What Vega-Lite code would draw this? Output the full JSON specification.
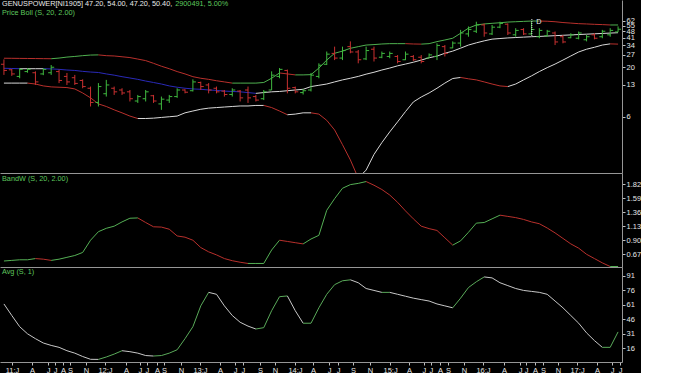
{
  "$schema": "https://vega.github.io/schema/vega-lite/v6.json",
  "background": "#000000",
  "padding": 0,
  "spacing": 0,
  "config": {
    "view": {"stroke": null},
    "axis": {"labelFont": "Liberation Sans", "labelFontSize": 7.5, "labelColor": "#e6e6e6", "domainColor": "#969696", "tickColor": "#bdbdbd", "grid": false, "title": null, "labelOverlap": false, "labelFlush": false, "labelBound": false},
    "text": {"font": "Liberation Sans", "fontSize": 7.3}
  },
  "resolve": {"scale": {"x": "independent", "y": "independent"}},
  "datasets": {
    "d": [
      {"i":0,"o":21.5,"h":24.2,"l":16.6,"c":18.5,"u":24.9,"m":19.5,"lb":13.6,"bw":0.56,"av":62},
      {"i":1,"o":18.8,"h":19.2,"l":16.2,"c":17.0,"u":24.85,"m":19.4,"lb":13.6,"bw":0.57,"av":50},
      {"i":2,"o":16.0,"h":19.6,"l":15.3,"c":19.0,"u":24.8,"m":19.3,"lb":13.6,"bw":0.58,"av":38.4},
      {"i":3,"o":18.0,"h":19.5,"l":17.5,"c":19.0,"u":24.75,"m":19.3,"lb":13.6,"bw":0.58,"av":31},
      {"i":4,"o":17.5,"h":18.1,"l":13.0,"c":14.0,"u":24.7,"m":19.3,"lb":13.3,"bw":0.6,"av":26},
      {"i":5,"o":17.0,"h":19.5,"l":16.5,"c":19.0,"u":24.65,"m":19.3,"lb":12.7,"bw":0.59,"av":21.5},
      {"i":6,"o":17.5,"h":21.1,"l":16.6,"c":20.0,"u":24.6,"m":19.2,"lb":12.4,"bw":0.57,"av":19},
      {"i":7,"o":18.0,"h":18.9,"l":13.6,"c":14.5,"u":25.0,"m":19.0,"lb":12.3,"bw":0.59,"av":17},
      {"i":8,"o":16.0,"h":17.4,"l":13.0,"c":14.0,"u":25.6,"m":18.7,"lb":12.2,"bw":0.62,"av":13.5},
      {"i":9,"o":15.5,"h":16.6,"l":13.0,"c":13.5,"u":26.0,"m":18.5,"lb":11.8,"bw":0.65,"av":11},
      {"i":10,"o":14.5,"h":14.9,"l":12.0,"c":12.5,"u":26.5,"m":18.1,"lb":10.7,"bw":0.7,"av":7.5},
      {"i":11,"o":12.0,"h":12.5,"l":7.7,"c":8.5,"u":26.9,"m":17.8,"lb":9.5,"bw":0.9,"av":4.6},
      {"i":12,"o":8.5,"h":13.6,"l":7.7,"c":12.5,"u":27.0,"m":17.6,"lb":8.2,"bw":1.04,"av":4.5},
      {"i":13,"o":10.5,"h":14.7,"l":9.8,"c":13.0,"u":26.5,"m":17.0,"lb":7.7,"bw":1.095,"av":7},
      {"i":14,"o":12.0,"h":12.5,"l":10.2,"c":11.0,"u":26.3,"m":16.5,"lb":7.1,"bw":1.13,"av":10},
      {"i":15,"o":11.5,"h":12.0,"l":10.2,"c":10.7,"u":25.8,"m":15.9,"lb":6.6,"bw":1.2,"av":13.5},
      {"i":16,"o":11.0,"h":11.5,"l":8.7,"c":9.3,"u":25.3,"m":15.4,"lb":6.1,"bw":1.26,"av":12.5},
      {"i":17,"o":8.8,"h":10.2,"l":8.4,"c":9.8,"u":24.4,"m":14.9,"lb":5.75,"bw":1.265,"av":11},
      {"i":18,"o":9.3,"h":11.5,"l":8.7,"c":11.0,"u":23.5,"m":14.3,"lb":5.75,"bw":1.19,"av":8.5},
      {"i":19,"o":10.0,"h":10.2,"l":8.4,"c":8.8,"u":22.0,"m":13.8,"lb":5.8,"bw":1.12,"av":8},
      {"i":20,"o":8.2,"h":9.8,"l":7.1,"c":9.2,"u":20.5,"m":13.3,"lb":5.9,"bw":1.115,"av":8.5},
      {"i":21,"o":9.0,"h":10.2,"l":8.4,"c":9.8,"u":19.3,"m":12.7,"lb":6.0,"bw":1.08,"av":11},
      {"i":22,"o":9.8,"h":12.0,"l":9.5,"c":11.5,"u":18.0,"m":12.3,"lb":6.1,"bw":0.97,"av":14.5},
      {"i":23,"o":11.5,"h":11.7,"l":10.6,"c":10.9,"u":17.0,"m":12.0,"lb":6.6,"bw":0.95,"av":26},
      {"i":24,"o":11.3,"h":14.9,"l":11.1,"c":14.0,"u":15.9,"m":11.8,"lb":6.9,"bw":0.9,"av":38.4},
      {"i":25,"o":13.8,"h":14.1,"l":11.5,"c":12.5,"u":15.3,"m":11.7,"lb":7.2,"bw":0.78,"av":60},
      {"i":26,"o":13.0,"h":13.6,"l":10.6,"c":11.5,"u":14.9,"m":11.5,"lb":7.4,"bw":0.71,"av":74},
      {"i":27,"o":12.0,"h":12.5,"l":10.6,"c":11.0,"u":14.4,"m":11.4,"lb":7.5,"bw":0.66,"av":72},
      {"i":28,"o":11.2,"h":11.5,"l":9.8,"c":10.3,"u":14.0,"m":11.2,"lb":7.6,"bw":0.6,"av":60},
      {"i":29,"o":10.3,"h":12.0,"l":9.8,"c":11.5,"u":13.6,"m":11.1,"lb":7.7,"bw":0.565,"av":50},
      {"i":30,"o":11.2,"h":11.5,"l":8.7,"c":9.5,"u":13.6,"m":11.0,"lb":7.8,"bw":0.54,"av":43},
      {"i":31,"o":11.5,"h":12.5,"l":8.4,"c":9.5,"u":13.6,"m":10.8,"lb":7.8,"bw":0.52,"av":39},
      {"i":32,"o":9.8,"h":10.2,"l":8.7,"c":9.0,"u":13.6,"m":10.6,"lb":7.9,"bw":0.52,"av":36},
      {"i":33,"o":9.3,"h":11.5,"l":9.0,"c":11.0,"u":13.8,"m":10.8,"lb":7.9,"bw":0.52,"av":37.4},
      {"i":34,"o":11.5,"h":18.1,"l":11.5,"c":16.5,"u":15.3,"m":11.0,"lb":7.5,"bw":0.74,"av":55},
      {"i":35,"o":16.0,"h":19.6,"l":15.3,"c":19.0,"u":17.4,"m":11.1,"lb":6.9,"bw":0.9,"av":69.5},
      {"i":36,"o":18.5,"h":18.9,"l":10.6,"c":12.0,"u":17.0,"m":11.3,"lb":6.3,"bw":0.88,"av":70.3},
      {"i":37,"o":12.2,"h":12.5,"l":10.6,"c":11.0,"u":16.6,"m":11.5,"lb":6.4,"bw":0.86,"av":55},
      {"i":38,"o":10.8,"h":11.8,"l":10.3,"c":11.3,"u":16.6,"m":11.7,"lb":6.6,"bw":0.84,"av":42},
      {"i":39,"o":11.5,"h":17.4,"l":11.1,"c":16.5,"u":16.7,"m":12.5,"lb":6.6,"bw":0.92,"av":42},
      {"i":40,"o":16.0,"h":22.0,"l":15.3,"c":21.0,"u":19.6,"m":12.9,"lb":6.4,"bw":0.98,"av":58},
      {"i":41,"o":21.5,"h":29.3,"l":21.1,"c":27.5,"u":23.8,"m":13.3,"lb":5.5,"bw":1.39,"av":72},
      {"i":42,"o":28.0,"h":33.0,"l":23.8,"c":25.0,"u":28.1,"m":14.0,"lb":4.35,"bw":1.58,"av":82},
      {"i":43,"o":25.0,"h":33.0,"l":23.8,"c":30.0,"u":29.6,"m":14.7,"lb":3.04,"bw":1.75,"av":86},
      {"i":44,"o":33.0,"h":37.5,"l":28.1,"c":29.0,"u":31.7,"m":15.3,"lb":2.1,"bw":1.81,"av":87},
      {"i":45,"o":29.0,"h":30.4,"l":22.0,"c":24.0,"u":33.0,"m":16.0,"lb":1.35,"bw":1.83,"av":84},
      {"i":46,"o":24.5,"h":33.0,"l":23.8,"c":30.0,"u":34.3,"m":16.9,"lb":1.64,"bw":1.86,"av":78},
      {"i":47,"o":31.0,"h":33.0,"l":23.0,"c":25.0,"u":34.7,"m":17.7,"lb":2.4,"bw":1.8,"av":76},
      {"i":48,"o":25.5,"h":29.3,"l":24.9,"c":28.0,"u":35.2,"m":18.7,"lb":3.2,"bw":1.73,"av":74},
      {"i":49,"o":26.0,"h":29.3,"l":24.9,"c":28.0,"u":35.5,"m":19.6,"lb":4.15,"bw":1.64,"av":74},
      {"i":50,"o":26.0,"h":26.9,"l":22.0,"c":23.0,"u":35.5,"m":20.7,"lb":5.3,"bw":1.52,"av":72},
      {"i":51,"o":24.0,"h":29.3,"l":23.8,"c":27.5,"u":35.5,"m":21.6,"lb":6.8,"bw":1.38,"av":70},
      {"i":52,"o":26.0,"h":26.9,"l":23.3,"c":24.0,"u":35.2,"m":22.6,"lb":8.6,"bw":1.25,"av":68},
      {"i":53,"o":25.5,"h":26.9,"l":22.0,"c":23.0,"u":35.1,"m":23.8,"lb":9.7,"bw":1.13,"av":66.5},
      {"i":54,"o":25.0,"h":28.0,"l":24.9,"c":27.0,"u":35.5,"m":25.2,"lb":10.7,"bw":1.09,"av":65},
      {"i":55,"o":26.0,"h":35.8,"l":23.8,"c":34.0,"u":37.3,"m":26.2,"lb":12.0,"bw":1.06,"av":62},
      {"i":56,"o":33.0,"h":34.3,"l":26.0,"c":28.0,"u":38.8,"m":28.1,"lb":13.6,"bw":0.94,"av":60},
      {"i":57,"o":32.0,"h":37.5,"l":31.8,"c":36.0,"u":40.5,"m":29.6,"lb":15.2,"bw":0.82,"av":58},
      {"i":58,"o":36.0,"h":49.6,"l":33.0,"c":46.0,"u":45.7,"m":31.8,"lb":15.6,"bw":0.89,"av":68},
      {"i":59,"o":45.0,"h":53.9,"l":42.0,"c":50.0,"u":51.7,"m":34.3,"lb":15.1,"bw":1.03,"av":79},
      {"i":60,"o":48.0,"h":60.5,"l":46.0,"c":56.0,"u":55.9,"m":36.2,"lb":14.7,"bw":1.18,"av":85},
      {"i":61,"o":56.0,"h":58.0,"l":42.0,"c":46.0,"u":57.3,"m":38.0,"lb":14.0,"bw":1.19,"av":90},
      {"i":62,"o":45.0,"h":55.9,"l":43.8,"c":53.0,"u":58.2,"m":39.6,"lb":13.3,"bw":1.25,"av":89},
      {"i":63,"o":53.0,"h":60.5,"l":51.7,"c":58.0,"u":59.0,"m":40.2,"lb":12.7,"bw":1.31,"av":84},
      {"i":64,"o":57.0,"h":58.0,"l":43.8,"c":46.0,"u":60.0,"m":40.8,"lb":12.5,"bw":1.29,"av":81},
      {"i":65,"o":44.0,"h":51.7,"l":42.0,"c":49.0,"u":60.5,"m":41.2,"lb":13.3,"bw":1.27,"av":78},
      {"i":66,"o":50.0,"h":51.7,"l":43.8,"c":45.0,"u":61.0,"m":41.6,"lb":14.7,"bw":1.24,"av":76},
      {"i":67,"o":45.0,"h":60.5,"l":43.8,"c":50.0,"u":61.5,"m":42.0,"lb":16.2,"bw":1.2,"av":75},
      {"i":68,"o":42.0,"h":51.7,"l":40.5,"c":49.0,"u":61.5,"m":42.3,"lb":18.0,"bw":1.17,"av":74},
      {"i":69,"o":43.0,"h":49.6,"l":42.0,"c":48.0,"u":61.2,"m":42.7,"lb":19.8,"bw":1.1,"av":72},
      {"i":70,"o":46.0,"h":47.7,"l":34.3,"c":37.0,"u":60.5,"m":43.1,"lb":21.6,"bw":1.02,"av":65},
      {"i":71,"o":42.0,"h":43.8,"l":35.8,"c":37.0,"u":59.3,"m":43.5,"lb":23.8,"bw":0.93,"av":58},
      {"i":72,"o":41.0,"h":45.7,"l":40.5,"c":44.0,"u":58.5,"m":43.9,"lb":26.3,"bw":0.84,"av":50},
      {"i":73,"o":40.5,"h":47.7,"l":39.4,"c":46.0,"u":57.7,"m":44.3,"lb":29.0,"bw":0.77,"av":42},
      {"i":74,"o":39.0,"h":43.8,"l":37.5,"c":42.0,"u":57.3,"m":44.7,"lb":31.0,"bw":0.67,"av":32},
      {"i":75,"o":44.0,"h":45.7,"l":39.4,"c":40.5,"u":56.8,"m":45.1,"lb":32.5,"bw":0.6,"av":24},
      {"i":76,"o":42.0,"h":49.6,"l":40.5,"c":48.0,"u":56.4,"m":45.5,"lb":34.3,"bw":0.53,"av":17},
      {"i":77,"o":44.0,"h":51.7,"l":42.0,"c":49.0,"u":55.9,"m":45.9,"lb":35.3,"bw":0.47,"av":17},
      {"i":78,"o":47.2,"h":54.0,"l":47.2,"c":50.4,"u":55.9,"m":46.3,"lb":35.1,"bw":0.47,"av":33}
    ]
  },
  "vconcat": [
    {
      "width": 622,
      "height": 173,
      "data": {"name": "d"},
      "layer": [
        {
          "transform": [
            {"fold": ["u", "m", "lb"], "as": ["s", "v"]},
            {"window": [{"op": "lead", "field": "v", "as": "v2"}, {"op": "lead", "field": "i", "as": "i2"}], "groupby": ["s"], "sort": [{"field": "i", "order": "ascending"}]},
            {"filter": "isValid(datum.i2)"}
          ],
          "mark": {"type": "rule", "strokeWidth": 1, "clip": true},
          "encoding": {
            "x": {"field": "i", "type": "quantitative", "scale": {"domain": [-0.5, 78.5], "nice": false, "zero": false}, "axis": {"labels": false, "ticks": false, "domain": true}},
            "x2": {"field": "i2"},
            "y": {"field": "v", "type": "quantitative", "scale": {"type": "log", "domain": [1.528, 102.6], "nice": false}, "axis": {"orient": "right", "values": [6, 13, 20, 27, 34, 41, 48, 55, 62], "tickCount": 100, "format": "d", "tickSize": 3, "labelPadding": 1, "labelOverlap": false}},
            "y2": {"field": "v2"},
            "color": {
              "condition": [
                {"test": "datum.s == 'u' && datum.v2 >= datum.v", "value": "#4fb04f"},
                {"test": "datum.s == 'u'", "value": "#b8302c"},
                {"test": "datum.s == 'm' && datum.v2 >= datum.v", "value": "#d8d8d8"},
                {"test": "datum.s == 'm'", "value": "#2a2ab8"},
                {"test": "datum.v2 >= datum.v", "value": "#d8d8d8"}
              ],
              "value": "#b8302c"
            }
          }
        },
        {
          "mark": {"type": "rule", "strokeWidth": 1, "clip": true},
          "encoding": {
            "x": {"field": "i", "type": "quantitative"},
            "y": {"field": "l", "type": "quantitative"},
            "y2": {"field": "h"},
            "color": {"condition": {"test": "datum.c >= datum.o", "value": "#3fb83f"}, "value": "#c83030"}
          }
        },
        {
          "mark": {"type": "tick", "orient": "horizontal", "size": 3, "thickness": 1, "xOffset": -1.5, "opacity": 1, "clip": true},
          "encoding": {
            "x": {"field": "i", "type": "quantitative"},
            "y": {"field": "o", "type": "quantitative"},
            "color": {"condition": {"test": "datum.c >= datum.o", "value": "#3fb83f"}, "value": "#c83030"}
          }
        },
        {
          "mark": {"type": "tick", "orient": "horizontal", "size": 3, "thickness": 1, "xOffset": 1.5, "opacity": 1, "clip": true},
          "encoding": {
            "x": {"field": "i", "type": "quantitative"},
            "y": {"field": "c", "type": "quantitative"},
            "color": {"condition": {"test": "datum.c >= datum.o", "value": "#3fb83f"}, "value": "#c83030"}
          }
        },
        {
          "data": {"values": [{"k": "D"}]},
          "mark": {"type": "rule", "color": "#e0e0e0", "strokeDash": [1, 1]},
          "encoding": {"x": {"datum": 67.05}, "y": {"datum": 64.6}, "y2": {"datum": 41.7}}
        },
        {
          "data": {"values": [{"t": "D"}]},
          "mark": {"type": "text", "align": "left", "baseline": "middle", "color": "#e8e8e8"},
          "encoding": {"text": {"field": "t"}, "x": {"datum": 67.6}, "y": {"datum": 60}}
        },
        {
          "data": {"values": [{"t": "GENUSPOWER[NI1905]"}]},
          "mark": {"type": "text", "align": "left", "baseline": "middle", "color": "#e8e8e8"},
          "encoding": {"text": {"field": "t"}, "x": {"datum": -0.25}, "y": {"datum": 92}}
        },
        {
          "data": {"values": [{"t": "47.20, 54.00, 47.20, 50.40,"}]},
          "mark": {"type": "text", "align": "left", "baseline": "middle", "color": "#e8e8e8"},
          "encoding": {"text": {"field": "t"}, "x": {"datum": 10.3}, "y": {"datum": 92}}
        },
        {
          "data": {"values": [{"t": "2900491, 5.00%"}]},
          "mark": {"type": "text", "align": "left", "baseline": "middle", "color": "#5ec85e"},
          "encoding": {"text": {"field": "t"}, "x": {"datum": 21.75}, "y": {"datum": 92}}
        },
        {
          "data": {"values": [{"t": "Price Boll (S, 20, 2.00)"}]},
          "mark": {"type": "text", "align": "left", "baseline": "middle", "color": "#5ec85e"},
          "encoding": {"text": {"field": "t"}, "x": {"datum": -0.25}, "y": {"datum": 74.2}}
        }
      ]
    },
    {
      "width": 622,
      "height": 94,
      "data": {"name": "d"},
      "layer": [
        {
          "transform": [
            {"window": [{"op": "lead", "field": "bw", "as": "b2"}, {"op": "lead", "field": "i", "as": "i2"}], "sort": [{"field": "i", "order": "ascending"}]},
            {"filter": "isValid(datum.i2)"}
          ],
          "mark": {"type": "rule", "strokeWidth": 1, "clip": true},
          "encoding": {
            "x": {"field": "i", "type": "quantitative", "scale": {"domain": [-0.5, 78.5], "nice": false, "zero": false}, "axis": {"labels": false, "ticks": false, "domain": true}},
            "x2": {"field": "i2"},
            "y": {"field": "bw", "type": "quantitative", "scale": {"domain": [0.462, 2.0], "nice": false, "zero": false}, "axis": {"orient": "right", "values": [0.67, 0.9, 1.13, 1.36, 1.59, 1.82], "tickCount": 100, "format": ".2f", "tickSize": 3, "labelPadding": 1, "labelOverlap": false}},
            "y2": {"field": "b2"},
            "color": {"condition": {"test": "datum.b2 >= datum.bw", "value": "#55b055"}, "value": "#b8302c"}
          }
        },
        {
          "data": {"values": [{"t": "BandW (S, 20, 2.00)"}]},
          "mark": {"type": "text", "align": "left", "baseline": "middle", "color": "#5ec85e"},
          "encoding": {"text": {"field": "t"}, "x": {"datum": -0.25}, "y": {"datum": 1.894}}
        }
      ]
    },
    {
      "width": 622,
      "height": 95,
      "data": {"name": "d"},
      "layer": [
        {
          "transform": [
            {"window": [{"op": "lead", "field": "av", "as": "a2"}, {"op": "lead", "field": "i", "as": "i2"}], "sort": [{"field": "i", "order": "ascending"}]},
            {"filter": "isValid(datum.i2)"}
          ],
          "mark": {"type": "rule", "strokeWidth": 1, "clip": true},
          "encoding": {
            "x": {
              "field": "i", "type": "quantitative",
              "scale": {"domain": [-0.5, 78.5], "nice": false, "zero": false},
              "axis": {
                "values": [1.02,3.56,5.6,6.49,7.5,8.39,10.42,12.84,15.5,17.28,18.17,19.44,20.33,22.49,24.9,27.44,29.35,30.36,32.52,34.43,36.97,39.26,41.29,42.43,44.34,46.5,49.04,51.45,53.35,54.24,55.39,56.4,58.44,60.85,63.52,65.55,66.31,67.45,68.47,70.37,72.79,75.33,77.23,78.25],
                "tickCount": 200,
                "labelExpr": "['11:J','A','J','J','A','S','N','12:J','A','J','J','A','S','N','13:J','A','J','J','S','N','14:J','A','J','J','S','N','15:J','A','J','J','A','S','N','16:J','A','J','J','A','S','N','17:J','A','J','J'][indexof([1.02,3.56,5.6,6.49,7.5,8.39,10.42,12.84,15.5,17.28,18.17,19.44,20.33,22.49,24.9,27.44,29.35,30.36,32.52,34.43,36.97,39.26,41.29,42.43,44.34,46.5,49.04,51.45,53.35,54.24,55.39,56.4,58.44,60.85,63.52,65.55,66.31,67.45,68.47,70.37,72.79,75.33,77.23,78.25], datum.value)]",
                "labelOverlap": false, "labelFlush": false, "labelBound": false,
                "tickSize": 3, "labelPadding": 1
              }
            },
            "x2": {"field": "i2"},
            "y": {"field": "av", "type": "quantitative", "scale": {"domain": [1.8, 100.3], "nice": false, "zero": false}, "axis": {"orient": "right", "values": [16, 31, 46, 61, 76, 91], "tickCount": 100, "format": "d", "tickSize": 3, "labelPadding": 1, "labelOverlap": false}},
            "y2": {"field": "a2"},
            "color": {"condition": {"test": "datum.a2 >= datum.av", "value": "#5aaa5a"}, "value": "#c8c8c8"}
          }
        },
        {
          "data": {"values": [{"t": "Avg (S, 1)"}]},
          "mark": {"type": "text", "align": "left", "baseline": "middle", "color": "#5ec85e"},
          "encoding": {"text": {"field": "t"}, "x": {"datum": -0.25}, "y": {"datum": 94.6}}
        }
      ]
    }
  ]
}
